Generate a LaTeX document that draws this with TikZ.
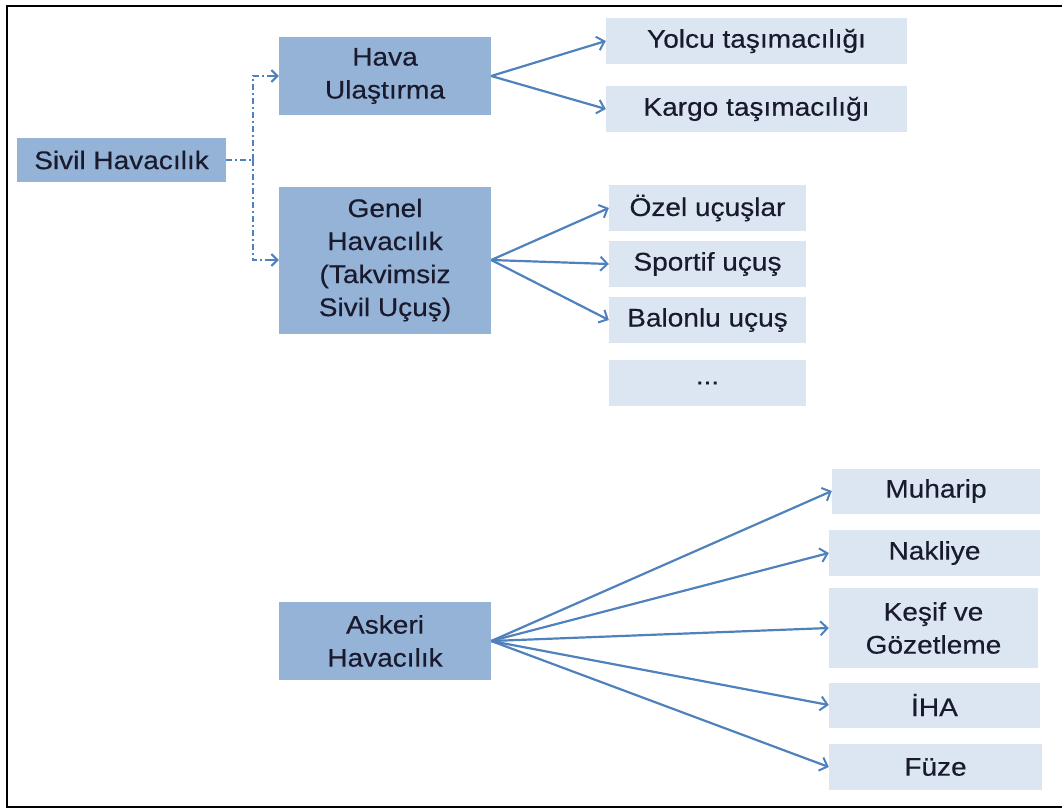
\documentclass[tikz,border=0pt]{standalone}
\usepackage{fontspec}
\setmainfont{Liberation Sans}[FakeStretch=1.1, FakeBold=0.4]
\usetikzlibrary{arrows.meta}
\definecolor{darkbox}{HTML}{95B3D7}
\definecolor{lightbox}{HTML}{DCE6F2}
\definecolor{arrowc}{HTML}{4F81BD}
\definecolor{txt}{HTML}{1A1A2E}
\tikzset{
  base/.style={inner sep=0pt, text=txt, align=center, font=\fontsize{25.5}{33}\selectfont},
  dbox/.style={base, fill=darkbox},
  lbox/.style={base, fill=lightbox},
  arr/.style={draw=arrowc, line width=2.2pt, -{Straight Barb[length=7pt,width=14pt,line width=2pt]}},
  dd/.style={draw=arrowc, line width=2.4pt, dash pattern=on 6pt off 3pt on 2pt off 3pt},
  ddtip/.style={draw=arrowc, line width=2pt, -{Straight Barb[length=6pt,width=12pt,line width=2pt]}},
}
\begin{document}
\begin{tikzpicture}[x=1pt,y=-1pt]
\useasboundingbox (0,0) rectangle (1062,808);
\draw[line width=2.2pt] (1062,6) -- (7,6) -- (7,807) -- (1062,807);
% main boxes
\node[dbox, minimum width=209pt, minimum height=44pt] (sivil) at (121.5,160) {Sivil Havacılık};
\node[dbox, minimum width=212pt, minimum height=78pt] (hava) at (385,76) {Hava\\Ulaştırma};
\node[dbox, minimum width=212pt, minimum height=147pt] (genel) at (385,260) {Genel\\Havacılık\\(Takvimsiz\\Sivil Uçuş)};
\node[dbox, minimum width=212pt, minimum height=78pt] (askeri) at (385,641) {Askeri\\Havacılık};
% leaf boxes
\node[lbox, minimum width=301pt, minimum height=46pt] (yolcu) at (756.5,41) {Yolcu taşımacılığı};
\node[lbox, minimum width=301pt, minimum height=46pt] (kargo) at (756.5,109) {Kargo taşımacılığı};
\node[lbox, minimum width=197pt, minimum height=46pt] (ozel) at (707.5,208) {Özel uçuşlar};
\node[lbox, minimum width=197pt, minimum height=46pt] (sportif) at (707.5,264) {Sportif uçuş};
\node[lbox, minimum width=197pt, minimum height=46pt] (balon) at (707.5,320) {Balonlu uçuş};
\node[lbox, minimum width=197pt, minimum height=46pt] (diger) at (707.5,383) {...};
\node[lbox, minimum width=208pt, minimum height=45pt] (muharip) at (936,491) {Muharip};
\node[lbox, minimum width=211pt, minimum height=46pt] (nakliye) at (934.5,553) {Nakliye};
\node[lbox, minimum width=209pt, minimum height=80pt] (kesif) at (933.5,628) {Keşif ve\\Gözetleme};
\node[lbox, minimum width=211pt, minimum height=45pt] (iha) at (934.5,705) {İHA};
\node[lbox, minimum width=213pt, minimum height=46pt] (fuze) at (935.5,767) {Füze};
% dash-dot connector
\coordinate (j) at (253,160);
\draw[dd] (sivil.east) -- (j);
\draw[dd] (j) |- ([xshift=-6pt]hava.west);
\draw[dd] (j) |- ([xshift=-6pt]genel.west);
\draw[ddtip] ([xshift=-12pt]hava.west) -- (hava.west);
\draw[ddtip] ([xshift=-12pt]genel.west) -- (genel.west);
% arrows
\draw[arr] (hava.east) -- (yolcu.west);
\draw[arr] (hava.east) -- (kargo.west);
\draw[arr] (genel.east) -- (ozel.west);
\draw[arr] (genel.east) -- (sportif.west);
\draw[arr] (genel.east) -- (balon.west);
\draw[arr] (askeri.east) -- (muharip.west);
\draw[arr] (askeri.east) -- (nakliye.west);
\draw[arr] (askeri.east) -- (kesif.west);
\draw[arr] (askeri.east) -- (iha.west);
\draw[arr] (askeri.east) -- (fuze.west);
\end{tikzpicture}
\end{document}
